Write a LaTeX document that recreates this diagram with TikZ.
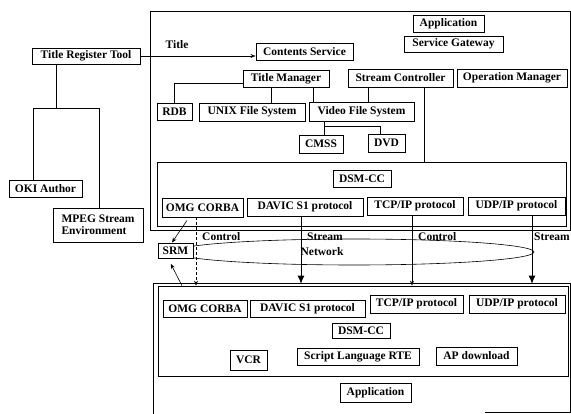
\documentclass[tikz,border=0pt]{standalone}
\usepackage{fontspec}
\setmainfont{Liberation Serif}
\usetikzlibrary{arrows.meta}
\tikzset{
  box/.style={draw, line width=0.9pt, fill=white, inner sep=1pt, font=\bfseries\fontsize{11.5}{12}\selectfont},
  frame/.style={draw, line width=0.6pt, inner sep=0pt},
  conn/.style={line width=0.6pt},
  smallarr/.style={conn, -{Stealth[length=5pt,width=4pt]}},
  bigarr/.style={line width=0.8pt, -{Latex[length=8pt,width=7pt]}},
  lbl/.style={font=\bfseries\fontsize{11.5}{12}\selectfont, inner sep=0pt}
}
\newcommand{\mkbox}[7][]{\node[box,#1, minimum width={(#4-#2)*1pt}, minimum height={(#5-#3)*1pt}] (#6) at ({(#2+#4)/2},{(#3+#5)/2}) {#7};}
\newcommand{\mkframe}[5]{\node[frame, minimum width={(#4-#2)*1pt}, minimum height={(#5-#3)*1pt}] (#1) at ({(#2+#4)/2},{(#3+#5)/2}) {};}
\begin{document}
\begin{tikzpicture}[x=1pt,y=-1pt]
\useasboundingbox (0,0) rectangle (571,414);
% frames
\mkframe{topframe}{150}{11}{570}{230}
\mkframe{dsmtop}{157}{162}{566}{226}
\mkframe{botinner}{158}{286}{568}{376}
\coordinate (bo1) at (153,414);
\coordinate (bo2) at (153,283);
\coordinate (bo3) at (570,283);
\coordinate (bo4) at (570,412);
\coordinate (bo5) at (485,412);
\draw[conn] (bo1) -- (bo2) -- (bo3) -- (bo4) -- (bo5);
% network
\draw[conn] (354,252) ellipse [x radius=180pt, y radius=13pt];
\node[lbl] (net) at (322,252) {Network};
% left side
\mkbox{32}{48}{140}{64}{trt}{Title Register Tool}
\mkbox{9}{180}{82}{197}{oki}{OKI Author}
\mkbox[align=left]{53}{208}{143}{242}{mpeg}{MPEG Stream\\Environment}
% top system
\mkbox{413}{15}{484}{32}{app1}{Application}
\mkbox{404}{36}{503}{52}{sg}{Service Gateway}
\mkbox{256}{43}{353}{60}{cs}{Contents Service}
\mkbox{243}{70}{329}{87}{tm}{Title Manager}
\mkbox{348}{69}{453}{87}{sc}{Stream Controller}
\mkbox{457}{69}{567}{87}{om}{Operation Manager}
\mkbox{157}{103}{192}{120}{rdb}{RDB}
\mkbox{199}{103}{305}{121}{unix}{UNIX File System}
\mkbox{309}{102}{414}{121}{vfs}{Video File System}
\mkbox{299}{135}{343}{153}{cmss}{CMSS}
\mkbox{368}{134}{405}{152}{dvd}{DVD}
\mkbox{333}{170}{391}{187}{dsm1}{DSM-CC}
\mkbox{162}{198}{243}{217}{omg1}{OMG CORBA}
\mkbox{247}{198}{363}{216}{davic1}{DAVIC S1 protocol}
\mkbox{367}{197}{463}{215}{tcp1}{TCP/IP protocol}
\mkbox{468}{197}{565}{215}{udp1}{UDP/IP protocol}
\mkbox{158}{243}{193}{258}{srm}{SRM}
% bottom system
\mkbox{163}{300}{247}{317}{omg2}{OMG CORBA}
\mkbox{250}{300}{365}{317}{davic2}{DAVIC S1 protocol}
\mkbox{370}{295}{463}{313}{tcp2}{TCP/IP protocol}
\mkbox{469}{295}{565}{313}{udp2}{UDP/IP protocol}
\mkbox{332}{323}{390}{338}{dsm2}{DSM-CC}
\mkbox{230}{350}{267}{370}{vcr}{VCR}
\mkbox{297}{348}{419}{365}{slr}{Script Language RTE}
\mkbox{436}{347}{517}{365}{apd}{AP download}
\mkbox{340}{383}{411}{402}{app2}{Application}
% helper coordinates
\coordinate (j1) at (56,108);
\coordinate (jl) at (33,108);
\coordinate (jr) at (99,108);
\coordinate (xunix) at (271,0);
\coordinate (xvfs) at (313,0);
\coordinate (xsc) at (368,0);
\coordinate (xcm) at (324,0);
\coordinate (jv) at (324,126);
\coordinate (jd) at (380,126);
\coordinate (xdsm) at (424,0);
\coordinate (xo1) at (187,0);
\coordinate (xs1) at (172,0);
\coordinate (xo2) at (182,0);
\coordinate (xs2) at (168,0);
\coordinate (xc1) at (196,0);
\coordinate (xst1) at (301,0);
\coordinate (xc2) at (412,0);
\coordinate (xst2) at (532,0);
% connectors
\draw[smallarr] (trt.east) -- (trt.east -| cs.west);
\node[lbl] (ttl) at (177,45) {Title};
\draw[conn] (trt.south -| j1) -- (j1);
\draw[conn] (oki.north -| jl) -- (jl) -- (jr) -- (mpeg.north -| jr);
\draw[conn] ([yshift=-5pt]tm.west) -| (rdb.north);
\draw[conn] (tm.south -| xunix) -- (unix.north -| xunix);
\draw[conn] (tm.south -| xvfs) -- (vfs.north -| xvfs);
\draw[conn] (sc.south -| xsc) -- (vfs.north -| xsc);
\draw[conn] (vfs.south -| xcm) -- (cmss.north -| xcm);
\draw[conn] (jv) -- (jd) -- (dvd.north -| jd);
\draw[conn] (sc.south -| xdsm) -- (dsmtop.north -| xdsm);
\draw[smallarr] ([yshift=-3pt]omg1.south -| xo1) -- (srm.north -| xs1);
\draw[smallarr, shorten >=6pt] (botinner.north -| xo2) -- (srm.south -| xs2);
\draw[smallarr, densely dashed] (omg1.south -| xc1) -- (botinner.north -| xc1);
\draw[bigarr] (davic1.south -| xst1) -- ([yshift=2pt]botinner.north -| xst1);
\draw[smallarr] (tcp1.south -| xc2) -- (botinner.north -| xc2);
\draw[bigarr] (udp1.south -| xst2) -- ([yshift=2pt]botinner.north -| xst2);
\node[lbl, anchor=west] (c1) at (202,237) {Control};
\node[lbl, anchor=west] (s1) at (307,237) {Stream};
\node[lbl, anchor=west] (c2) at (418,237) {Control};
\node[lbl, anchor=east] (s2) at (570,237) {Stream};
\end{tikzpicture}
\end{document}
